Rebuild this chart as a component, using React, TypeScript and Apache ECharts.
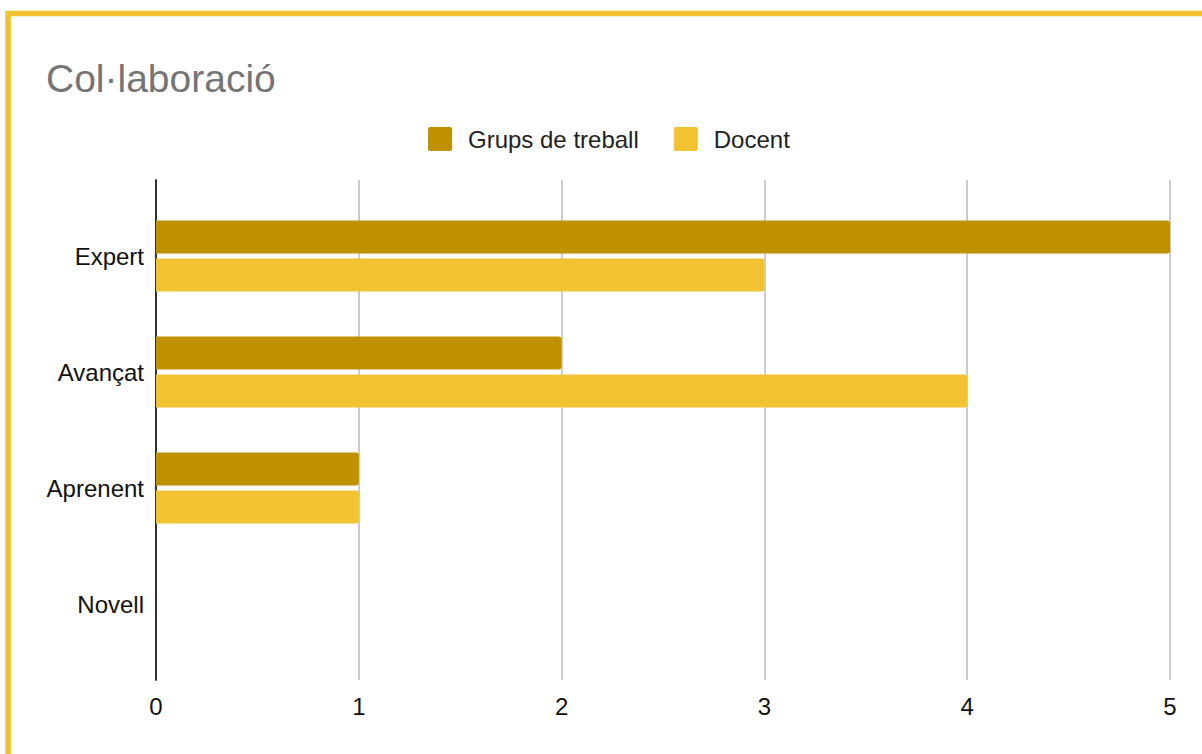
import React, { useEffect, useRef } from "react";
import * as echarts from "echarts";

const categories = ["Expert", "Avançat", "Aprenent", "Novell"];
const grupsValues = [5, 2, 1, 0];
const docentValues = [3, 4, 1, 0];
const seriesNames = ["Grups de treball", "Docent"];
const titleText = "Col·laboració";

const FONT = "'Liberation Sans', Arial, sans-serif";

export default function App() {
  const ref = useRef<HTMLDivElement>(null);
  useEffect(() => {
    if (!ref.current) return;
    const chart = echarts.init(ref.current, null, { renderer: "svg" });
    chart.setOption({
      animation: false,
      backgroundColor: "#ffffff",
      textStyle: { fontFamily: FONT },
      title: {
        text: titleText,
        left: 41,
        top: 54,
        textStyle: { fontSize: 39, fontWeight: "normal", color: "#757575", fontFamily: FONT },
      },
      legend: {
        left: 423,
        top: 122,
        itemWidth: 24,
        itemHeight: 24,
        itemGap: 35,
        icon: "path://M2,0 L22,0 Q24,0 24,2 L24,22 Q24,24 22,24 L2,24 Q0,24 0,22 L0,2 Q0,0 2,0 Z",
        textStyle: { fontSize: 24, color: "#222222", fontFamily: FONT, padding: [0, 0, 0, 11] },
        data: seriesNames,
      },
      graphic: [
        {
          type: "rect",
          shape: { x: 8, y: 13.5, width: 1400, height: 1000 },
          style: { fill: "none", stroke: "#F1C232", lineWidth: 5.5 },
          z: 100,
        },
      ],
      grid: [
        { left: 156, right: 32, top: 180, bottom: 74 },
        { left: 156, right: 32, top: 198, bottom: 92 },
      ],
      xAxis: [
        {
          type: "value",
          gridIndex: 0,
          min: 0,
          max: 5,
          interval: 1,
          axisLine: { show: false },
          axisTick: { show: false },
          axisLabel: { fontSize: 24, color: "#111111", margin: 14, fontFamily: FONT },
          splitLine: { show: true, lineStyle: { color: "#cccccc", width: 2 } },
        },
        {
          type: "value",
          gridIndex: 1,
          min: 0,
          max: 5,
          interval: 1,
          show: false,
          splitLine: { show: false },
        },
      ],
      yAxis: [
        {
          type: "value",
          gridIndex: 0,
          min: 0,
          max: 1,
          axisLine: { show: true, lineStyle: { color: "#333333", width: 2 } },
          axisTick: { show: false },
          axisLabel: { show: false },
          splitLine: { show: false },
        },
        {
          type: "category",
          gridIndex: 1,
          inverse: true,
          data: categories,
          axisLine: { show: false },
          axisTick: { show: false },
          axisLabel: { fontSize: 24, color: "#111111", margin: 12, fontFamily: FONT },
          splitLine: { show: false },
        },
      ],
      series: [
        {
          name: seriesNames[0],
          type: "bar",
          xAxisIndex: 1,
          yAxisIndex: 1,
          data: grupsValues,
          barWidth: 33,
          barGap: "15%",
          itemStyle: { color: "#BF9000", borderRadius: [0, 3, 3, 0] },
        },
        {
          name: seriesNames[1],
          type: "bar",
          xAxisIndex: 1,
          yAxisIndex: 1,
          data: docentValues,
          barWidth: 33,
          barGap: "15%",
          itemStyle: { color: "#F1C232", borderRadius: [0, 3, 3, 0] },
        },
      ],
    });
    return () => chart.dispose();
  }, []);
  return (
    <div
      ref={ref}
      style={{ position: "absolute", left: 0, top: 0, width: 1202, height: 754 }}
    />
  );
}
